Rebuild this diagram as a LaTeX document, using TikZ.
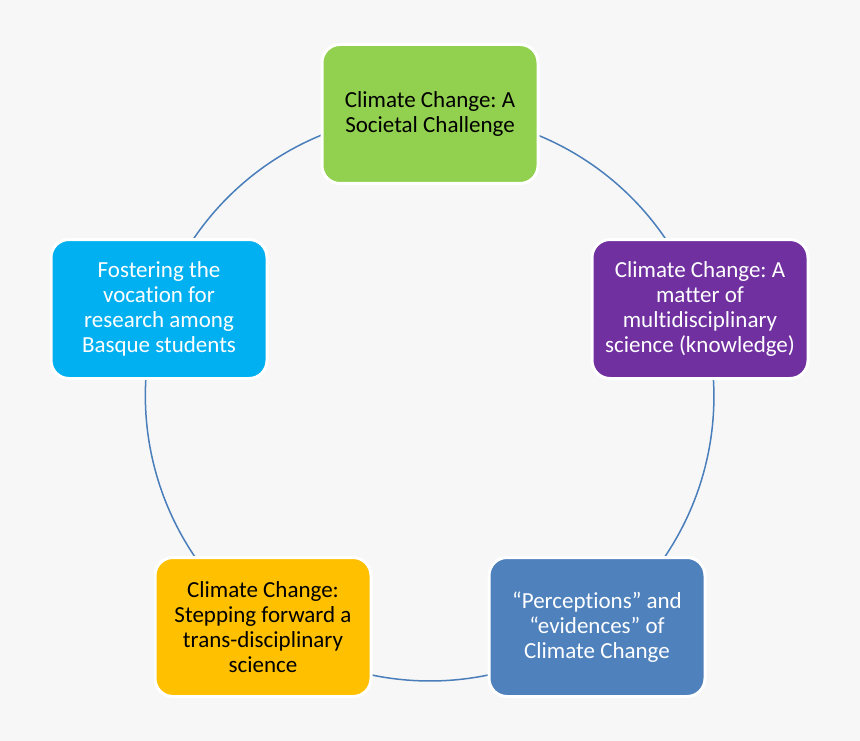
\documentclass[tikz,border=0pt]{standalone}
\usepackage{fontspec}
\setmainfont{Carlito}[Ligatures={NoCommon}]
\usetikzlibrary{backgrounds}
\definecolor{bg}{HTML}{F7F7F7}
\definecolor{cgreen}{HTML}{92D050}
\definecolor{cpurple}{HTML}{7030A0}
\definecolor{cblue}{HTML}{4F81BD}
\definecolor{cyellow}{HTML}{FFC000}
\definecolor{ccyan}{HTML}{00B0F0}
\definecolor{arcc}{HTML}{4A7EBB}
\frenchspacing
\begin{document}
\begin{tikzpicture}[x=1pt,y=-1pt,
  cyclebox/.style={draw=white, line width=3pt, rounded corners=18pt,
    minimum width=216pt, minimum height=139pt, align=center,
    font=\fontsize{23}{25}\selectfont, inner sep=0pt},
  cyclearc/.style={draw=arcc, line width=1.5pt, bend left=36, looseness=0.94}]
\useasboundingbox (0,0) rectangle (860,741);
\node[cyclebox, fill=cgreen, text=black] (n1) at (430,114) {Climate Change: A\\Societal Challenge};
\node[cyclebox, fill=cpurple, text=white] (n2) at (700,309) {Climate Change: A\\matter of\\multidisciplinary\\science (knowledge)};
\node[cyclebox, fill=cblue, text=white] (n3) at (597,627) {“Perceptions” and\\“evidences” of\\Climate Change};
\node[cyclebox, fill=cyellow, text=black] (n4) at (263,627) {Climate Change:\\Stepping forward a\\trans-disciplinary\\science};
\node[cyclebox, fill=ccyan, text=white] (n5) at (159,309) {Fostering the\\vocation for\\research among\\Basque students};
\begin{scope}[on background layer]
\fill[bg] (0,0) rectangle (860,741);
\draw[cyclearc] (n1.center) to (n2.center);
\draw[cyclearc] (n2.center) to (n3.center);
\draw[cyclearc] (n3.center) to (n4.center);
\draw[cyclearc] (n4.center) to (n5.center);
\draw[cyclearc] (n5.center) to (n1.center);
\end{scope}
\end{tikzpicture}
\end{document}
